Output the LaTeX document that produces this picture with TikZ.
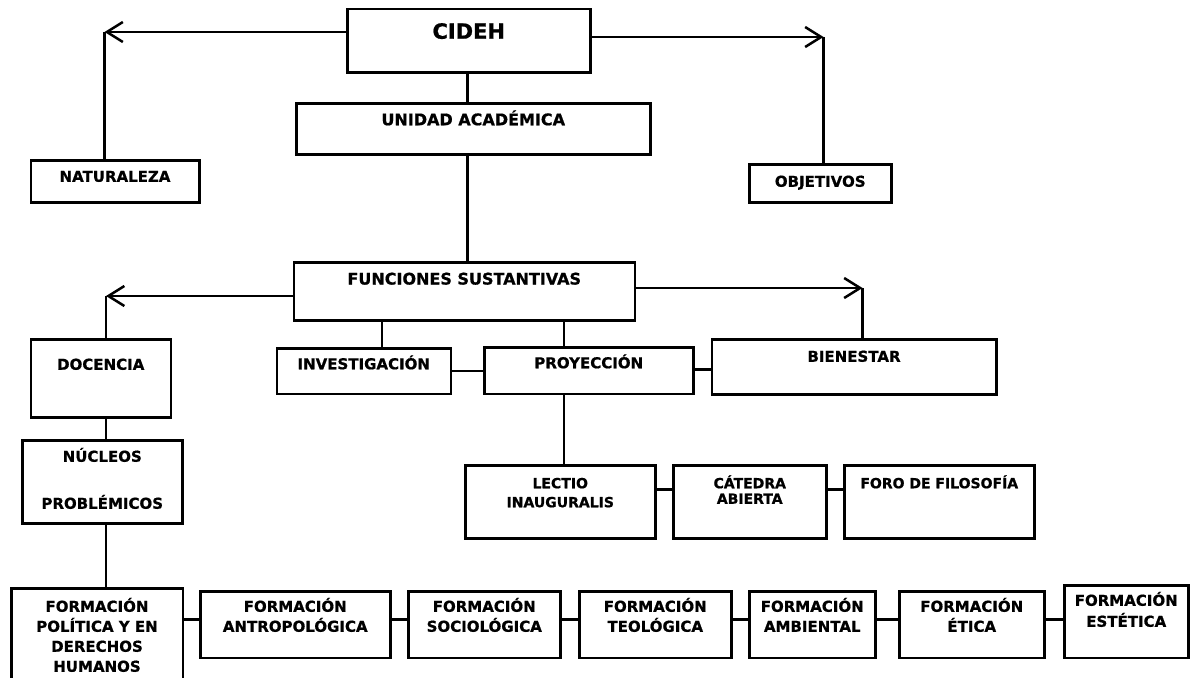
\documentclass[tikz,border=0pt]{standalone}
\usepackage{fontspec}
\setmainfont{DejaVu Sans}[BoldFeatures={FakeBold=0.8}]
\usetikzlibrary{arrows.meta}

% box of fixed size, text hung from the top (w, h, first baseline, text)
\newcommand{\caja}[4]{\parbox[c][#2pt][t]{#1pt}{\centering\vspace*{\dimexpr#3pt-16pt\relax}\rule{0pt}{16pt}#4}}

\tikzset{
  rect/.style={draw, line width=2.5pt, inner sep=0pt, anchor=north west,
    font=\fontsize{15}{20}\selectfont\bfseries},
  grande/.style={font=\fontsize{16}{20}\selectfont\bfseries},
  chica/.style={font=\fontsize{14}{19.5}\selectfont\bfseries},
  linea/.style={line width=2.5pt},
  flecha/.style={line width=2.5pt, -{Straight Barb[length=16pt,width=20pt]}},
}

\begin{document}
\begin{tikzpicture}[x=1pt, y=-1pt]
  \useasboundingbox[fill=white] (0,0) rectangle (1190,677);

  \node[rect, font=\fontsize{21}{24}\selectfont\bfseries] (cideh) at (346,8) {\caja{243}{63}{29.5}{CIDEH}};
  \node[rect, grande] (unidad) at (295,102) {\caja{354}{51}{22}{UNIDAD ACADÉMICA}};
  \node[rect] (naturaleza) at (29.5,159) {\caja{168.5}{42}{21.5}{NATURALEZA}};
  \node[rect] (objetivos) at (748,163) {\caja{142}{38}{22.5}{OBJETIVOS}};
  \node[rect, grande] (funciones) at (292.5,261) {\caja{341}{58}{22.3}{FUNCIONES SUSTANTIVAS}};
  \node[rect] (docencia) at (29.5,338) {\caja{140}{78}{30.5}{DOCENCIA}};
  \node[rect] (investigacion) at (275.5,347) {\caja{174}{45.5}{21}{INVESTIGACIÓN}};
  \node[rect] (proyeccion) at (483,346) {\caja{209}{46.5}{21}{PROYECCIÓN}};
  \node[rect] (bienestar) at (710.5,338) {\caja{284.5}{55}{22.5}{BIENESTAR}};
  \node[rect] (nucleos) at (21,439) {\caja{160}{83}{21.5}{NÚCLEOS\\[27pt]PROBLÉMICOS}};
  \node[rect, chica] (lectio) at (464,464) {\caja{190}{73}{23}{LECTIO\\[-0.5pt]INAUGURALIS}};
  \node[rect, chica] (catedra) at (672,464) {\caja{153}{73}{23}{CÁTEDRA\\[-4pt]ABIERTA}};
  \node[rect, chica] (foro) at (843,464) {\caja{190}{73}{23}{FORO DE FILOSOFÍA}};

  % fila de formaciones
  \node[rect] (politica) at (10,587) {\caja{171.5}{98}{23.5}{FORMACIÓN\\POLÍTICA Y EN\\DERECHOS\\HUMANOS}};
  \node[rect] (antropologica) at (199,590) {\caja{190}{66.5}{20.5}{FORMACIÓN\\ANTROPOLÓGICA}};
  \node[rect] (sociologica) at (407,590) {\caja{152}{66.5}{20.5}{FORMACIÓN\\SOCIOLÓGICA}};
  \node[rect] (teologica) at (578,590) {\caja{152}{66.5}{20.5}{FORMACIÓN\\TEOLÓGICA}};
  \node[rect] (ambiental) at (748,590) {\caja{126}{66.5}{20.5}{FORMACIÓN\\AMBIENTAL}};
  \node[rect] (etica) at (898,590) {\caja{145}{66.5}{20.5}{FORMACIÓN\\ÉTICA}};
  \node[rect] (estetica) at (1063,584) {\caja{124}{72.5}{20.5}{FORMACIÓN\\[1pt]ESTÉTICA}};

  % esquinas de las flechas
  \coordinate (natc) at (104.5,32);
  \coordinate (objc) at (823.5,37);
  \coordinate (docc) at (106,296);
  \coordinate (bienc) at (862.5,288);

  \draw[flecha] (cideh.west |- natc) -- (natc);
  \draw[linea] (natc) -- (natc |- naturaleza.north);
  \draw[flecha] (cideh.east |- objc) -- (objc);
  \draw[linea] (objc) -- (objc |- objetivos.north);
  \draw[linea] ([xshift=-1.5pt]cideh.south) -- ([xshift=-1.5pt]cideh.south |- unidad.north);
  \draw[linea] ([xshift=-6pt]unidad.south) -- ([xshift=-6pt]unidad.south |- funciones.north);

  \draw[flecha] (funciones.west |- docc) -- (docc);
  \draw[linea] (docc) -- (docc |- docencia.north);
  \draw[flecha] (funciones.east |- bienc) -- (bienc);
  \draw[linea] (bienc) -- (bienc |- bienestar.north);
  \draw[linea] ([xshift=18pt]investigacion.north) -- ([xshift=18pt]investigacion.north |- funciones.south);
  \draw[linea] ([xshift=-25pt]proyeccion.north) -- ([xshift=-25pt]proyeccion.north |- funciones.south);
  \draw[linea] (investigacion.east) -- (investigacion.east -| proyeccion.west);
  \draw[linea] ([yshift=1pt]proyeccion.east) -- ([yshift=1pt]proyeccion.east -| bienestar.west);
  \draw[linea] ([xshift=3.5pt]lectio.north) -- ([xshift=3.5pt]lectio.north |- proyeccion.south);
  \foreach \a/\b in {lectio/catedra, catedra/foro}
    \draw[linea] ([yshift=12.5pt]\a.east) -- ([yshift=12.5pt]\a.east -| \b.west);

  \draw[linea] (docc |- docencia.south) -- (docc |- nucleos.north);
  \draw[linea] (docc |- nucleos.south) -- (docc |- politica.north);
  \draw[linea] ([yshift=5pt]antropologica.west) -- ([yshift=5pt]antropologica.west -| politica.east);
  \foreach \a/\b in {antropologica/sociologica, sociologica/teologica, teologica/ambiental, ambiental/etica, etica/estetica}
    \draw[linea] ([yshift=5pt]\a.east) -- ([yshift=5pt]\a.east -| \b.west);
\end{tikzpicture}
\end{document}
